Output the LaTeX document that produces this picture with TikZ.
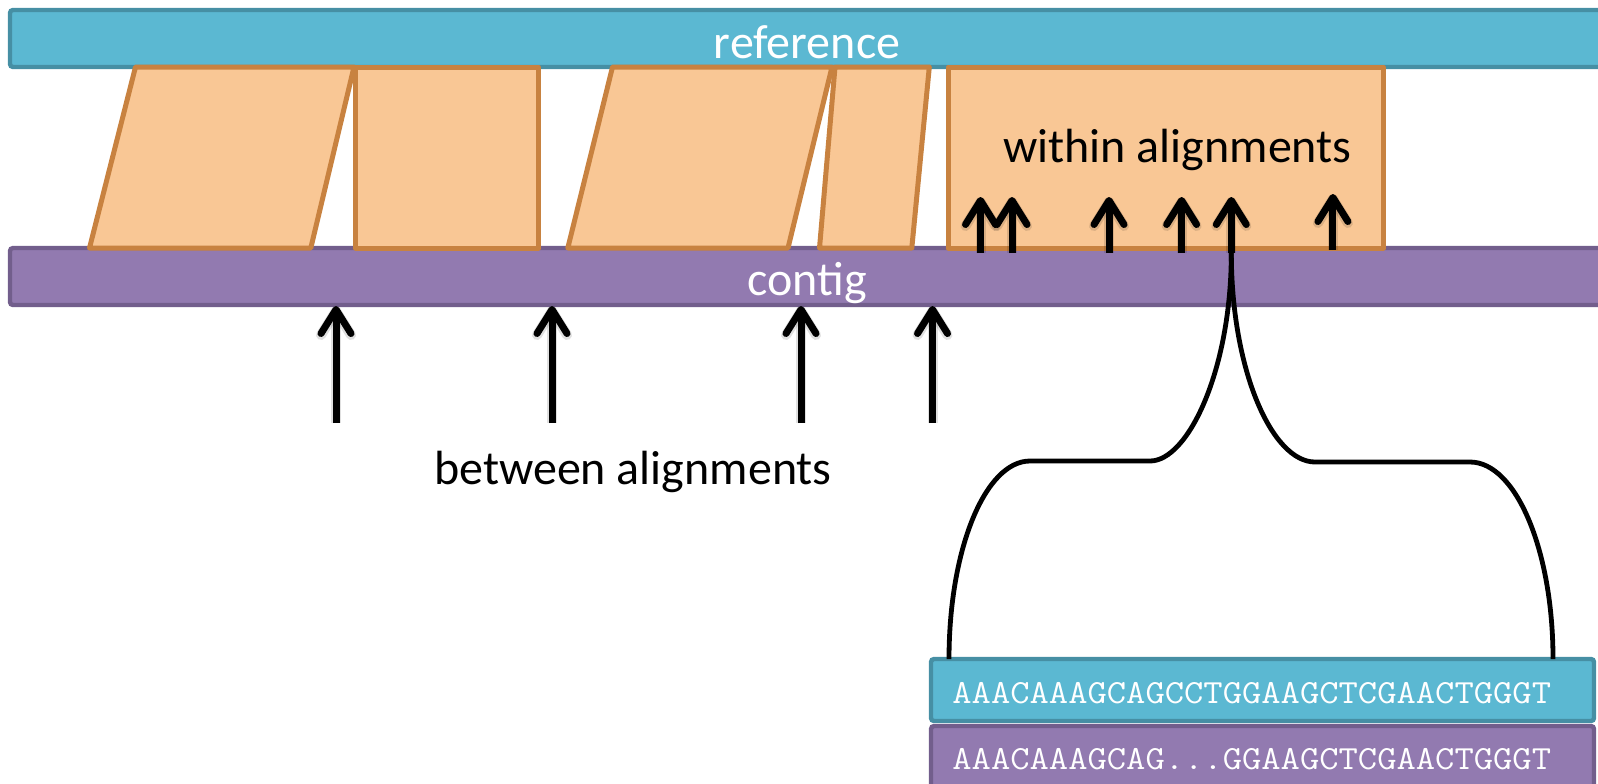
\documentclass[tikz,border=0pt]{standalone}
\usepackage{fontspec}
\usepackage{graphicx}
\setmainfont{Carlito}
\usetikzlibrary{arrows.meta}
\definecolor{tealF}{RGB}{91,184,210}
\definecolor{tealD}{RGB}{70,143,164}
\definecolor{purF}{RGB}{146,122,176}
\definecolor{purD}{RGB}{114,94,140}
\definecolor{orF}{RGB}{249,199,149}
\definecolor{orD}{RGB}{200,130,64}
\tikzset{
  barT/.style={fill=tealF, draw=tealD, line width=2.2pt, rounded corners=1.5pt},
  barP/.style={fill=purF, draw=purD, line width=2.2pt, rounded corners=1.5pt},
  aln/.style={fill=orF, draw=orD, line width=2.5pt, line join=round},
  ptr/.style={line width=3.5pt, -{Straight Barb[length=12pt,width=15pt,round]},
    preaction={draw=black, opacity=0.12, line width=5pt, shift={(2pt,-2.5pt)}, -{Straight Barb[length=12pt,width=15pt,round]}}},
  bracepath/.style={line width=2.4pt},
  lbl/.style={font=\fontsize{24pt}{28pt}\selectfont, inner sep=0pt, anchor=base},
  wlbl/.style={lbl, text=white},
  seqtxt/.style={font=\fontsize{18.75pt}{20pt}\ttfamily, text=white, inner sep=0pt, anchor=base west}
}
\begin{document}
\begin{tikzpicture}[x=0.5pt,y=-0.5pt]
\path[use as bounding box, clip] (0,0) rectangle (1598,783);
% bars
\path[barT] (10,10) rectangle (1620,67);
\path[barP] (10,248) rectangle (1620,305);
% alignment blocks
\path[aln] (135.5,67) -- (354,67) -- (310.8,248) -- (89.5,248) -- cycle;
\path[aln] (355.5,67) rectangle (538.5,248);
\path[aln] (612.5,67) -- (832,67) -- (788,248) -- (567.8,248) -- cycle;
\path[aln] (835,67) -- (929.3,67) -- (911.8,248) -- (819.5,248) -- cycle;
\path[aln] (948.2,67) rectangle (1383.5,248);
% labels
\node[wlbl] (reflbl) at (807,58) {reference};
\node[wlbl] (ctglbl) at (807,295.5) {contig};
\node[lbl] (within) at (1177.5,162) {within alignments};
\node[lbl] (between) at (633,484) {between alignments};
% within-alignment arrows
\foreach \i/\x/\t/\b in {1/980.5/197/253, 2/1012/197/253, 3/1109/197/253, 4/1181.6/197/253, 5/1231.3/197/253, 6/1332.9/194/250}{
  \coordinate (wt\i) at (\x,\t);
  \coordinate (wb\i) at (\x,\b);
  \draw[ptr] (wb\i) -- (wt\i);
}
% between-alignment arrows
\foreach \i/\x in {1/336, 2/552, 3/801, 4/932.5}{
  \coordinate (bt\i) at (\x,306);
  \coordinate (bb\i) at (\x,423);
  \draw[ptr] (bb\i) -- (bt\i);
}
% sequence boxes
\path[barT] (931,659) rectangle (1594,721);
\path[barP] (931,726) rectangle (1594,800);
\node[seqtxt] (seqref) at (952,703) {\scalebox{1}[0.9]{AAACAAAGCAGCCTGGAAGCTCGAACTGGGT}};
\node[seqtxt] (seqctg) at (952,769) {\scalebox{1}[0.9]{AAACAAAGCAG...GGAAGCTCGAACTGGGT}};
% brace
\coordinate (bl) at (949,659);
\coordinate (br) at (1553,659);
\draw[bracepath] (wb5) .. controls (1231.3,370) and (1188,461) .. (1150,461)
  -- (1030,461) .. controls (985.3,461) and (949,549) .. (bl);
\draw[bracepath] (wb5) .. controls (1231.3,370) and (1272,462) .. (1315,462)
  -- (1470,462) .. controls (1515.8,462) and (1553,550) .. (br);
\end{tikzpicture}
\end{document}
